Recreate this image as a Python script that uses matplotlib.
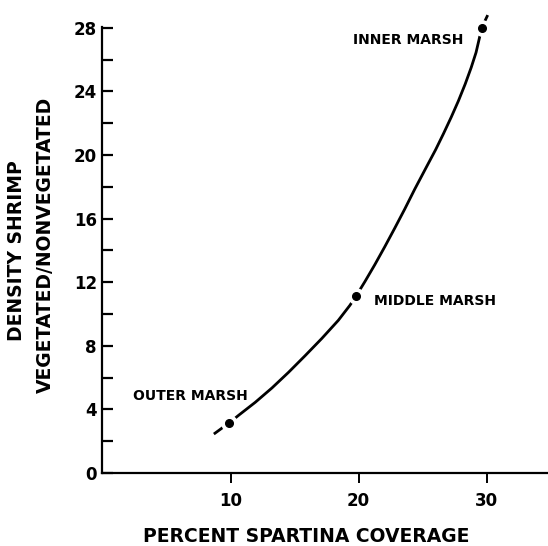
import matplotlib.pyplot as plt

# points
curve_x = [8.7, 9.48, 9.92, 10.65, 11.94, 13.24, 14.53, 15.83, 17.13, 18.42, 19.33, 19.8,
           20.5, 21.27, 22.05, 22.83, 23.61, 24.39, 25.34, 26.02, 26.64, 27.24, 27.8,
           28.33, 28.8, 29.18, 29.44, 29.62, 30.09]
curve_y = [2.45, 2.91, 3.16, 3.64, 4.45, 5.35, 6.33, 7.38, 8.46, 9.6, 10.55, 11.12,
           12.04, 13.1, 14.23, 15.4, 16.6, 17.85, 19.3, 20.33, 21.35, 22.38, 23.4,
           24.46, 25.5, 26.45, 27.35, 28.0, 28.8]

# the three marsh stations
site_names = ["OUTER MARSH", "MIDDLE MARSH", "INNER MARSH"]
site_x = [9.92, 19.8, 29.62]
site_y = [3.16, 11.12, 28.0]

y_ticks = [0, 4, 8, 12, 16, 20, 24, 28]
x_ticks = [10, 20, 30]

fig = plt.figure(figsize=(5.48, 5.46), dpi=100)
ax = fig.add_axes([0.187, 0.1337, 0.813, 0.8168])

ax.plot(curve_x, curve_y, color="black", lw=2.0, solid_capstyle="butt", clip_on=False)
# white halo so the line breaks around each dot
ax.plot(site_x, site_y, "o", color="white", markersize=11, zorder=3, clip_on=False)
ax.plot(site_x, site_y, "o", color="black", markersize=5.5, zorder=4, clip_on=False)

label_pos = [(2.4, 4.85), (21.2, 10.8), (19.6, 27.25)]
for name, (lx, ly) in zip(site_names, label_pos):
    ax.text(lx, ly, name, fontsize=10, fontweight="bold", ha="left", va="center")

ax.set_xlim(0, 34.8)
ax.set_ylim(0, 28.05)
ax.set_xticks(x_ticks)
ax.set_yticks(y_ticks)
ax.set_yticks(range(2, 28, 4), minor=True)

for side in ["top", "right"]:
    ax.spines[side].set_visible(False)
for side in ["left", "bottom"]:
    ax.spines[side].set_linewidth(1.6)

ax.tick_params(axis="y", which="both", direction="in", length=8, width=1.6, pad=4, labelsize=12)
ax.tick_params(axis="x", direction="out", length=7, width=1.4, pad=7, labelsize=12)
for lbl in ax.get_xticklabels() + ax.get_yticklabels():
    lbl.set_fontweight("bold")

ax.set_xlabel("PERCENT SPARTINA COVERAGE", fontsize=13.5, fontweight="bold")
ax.xaxis.set_label_coords(0.457, -0.1435)
ax.xaxis.label.set_va("center")

fig.text(17 / 548, 1 - 251 / 546, "DENSITY SHRIMP", rotation=90, fontsize=13.5,
         fontweight="bold", ha="center", va="center")
fig.text(45 / 548, 1 - 245 / 546, "VEGETATED/NONVEGETATED", rotation=90, fontsize=13.5,
         fontweight="bold", ha="center", va="center")

fig.savefig("out.png", dpi=100)
